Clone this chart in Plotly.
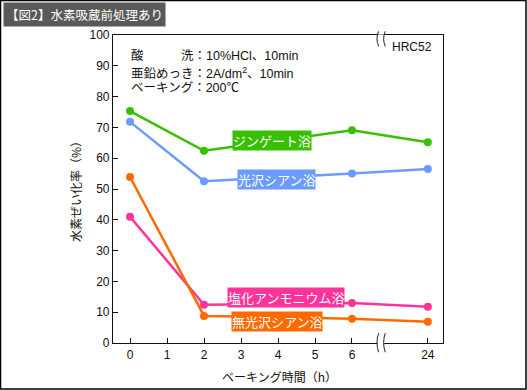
import plotly.graph_objects as go

hours = [0, 2, 6, 24]
tick_vals = [0, 1, 2, 3, 4, 5, 6, 24]
y_ticks = [0, 10, 20, 30, 40, 50, 60, 70, 80, 90, 100]

series_names = ["ジンゲート浴", "光沢シアン浴", "塩化アンモニウム浴", "無光沢シアン浴"]
zincate = [75.3, 62.4, 69.1, 65.2]
bright_cyanide = [71.8, 52.5, 55.0, 56.5]
ammonium_chloride = [41.0, 12.4, 13.0, 11.8]
matte_cyanide = [53.9, 8.8, 7.9, 6.9]
series_values = [zincate, bright_cyanide, ammonium_chloride, matte_cyanide]
colors = ["#38c000", "#6b9bff", "#ff3399", "#ff6a00"]
label_pos = [(3.84, 65.9), (3.95, 53.2), (4.22, 14.9), (3.97, 7.1)]

BREAK_POS = 8.05  # axis position used for 24 h (axis is broken after 6 h)


def xmap(h):
    return h if h <= 6 else BREAK_POS


FONT = "Liberation Sans, Arial, Noto Sans CJK JP, sans-serif"
JFONT = "Noto Sans CJK JP, Liberation Sans, sans-serif"

fig = go.Figure()
for name, vals, col in zip(series_names, series_values, colors):
    fig.add_trace(go.Scatter(
        x=[xmap(h) for h in hours], y=vals, mode="lines+markers", name=name,
        line=dict(color=col, width=2.5), marker=dict(color=col, size=8),
        showlegend=False, cliponaxis=False))

annotations = []
for name, (lx, ly), col in zip(series_names, label_pos, colors):
    annotations.append(dict(x=lx, y=ly, xref="x", yref="y", text=name, showarrow=False,
                            font=dict(family=JFONT, size=13, color="white"),
                            bgcolor=col, borderpad=0))

cond_lines = ["酸　　　洗：10%HCl、10min", "亜鉛めっき：2A/dm<sup>2</sup>、10min", "ベーキング：200℃"]
cond_y = [93.5, 87.7, 82.8]
for t, yy in zip(cond_lines, cond_y):
    annotations.append(dict(x=-0.02, y=yy, xref="x", yref="y", text=t, showarrow=False,
                            xanchor="left", yanchor="middle",
                            font=dict(family=FONT, size=12.5, color="#111")))
annotations.append(dict(x=8.22, y=96.0, xref="x", yref="y", text="HRC52", showarrow=False,
                        xanchor="right", yanchor="middle",
                        font=dict(family=FONT, size=12, color="#111")))
annotations.append(dict(x=-0.115, y=0.5, xref="paper", yref="paper", text="水素ぜい化率（%）",
                        textangle=-90, showarrow=False, xanchor="center", yanchor="middle",
                        font=dict(family=JFONT, size=12, color="#111")))
annotations.append(dict(x=0.506, y=-0.11, xref="paper", yref="paper", text="ベーキング時間（h）",
                        showarrow=False, xanchor="center", yanchor="middle",
                        font=dict(family=JFONT, size=12, color="#111")))
annotations.append(dict(x=-0.3333, y=1.068, xref="paper", yref="paper", text="【図2】水素吸蔵前処理あり",
                        showarrow=False, xanchor="left", yanchor="middle",
                        font=dict(family=JFONT, size=12.5, color="white"),
                        bgcolor="#595959", borderpad=2))

shapes = [
    dict(type="rect", xref="paper", yref="paper", x0=-0.3409, x1=1.2515, y0=-0.1494, y1=1.1120,
         line=dict(color="black", width=1.5), fillcolor="rgba(0,0,0,0)", layer="below"),
]
# axis break marks (top and bottom)
for yc in [(1.012, 0.963), (0.032, -0.03)]:
    y_top, y_bot = yc
    shapes.append(dict(type="rect", xref="x", yref="paper", x0=6.69, x1=6.87, y0=y_bot + 0.01, y1=y_top - 0.01,
                       line=dict(width=0), fillcolor="white", layer="above"))
    ym = (y_top + y_bot) / 2
    for xb in [6.69, 6.87]:
        shapes.append(dict(type="path", xref="x", yref="paper",
                           path=f"M {xb + 0.03},{y_top} Q {xb - 0.06},{ym} {xb + 0.03},{y_bot}",
                           line=dict(color="#222", width=1), layer="above"))

fig.update_layout(
    width=527, height=390,
    margin=dict(l=113, r=84, t=35, b=47),
    paper_bgcolor="white", plot_bgcolor="white",
    font=dict(family=FONT, size=12, color="#111"),
    annotations=annotations, shapes=shapes,
    xaxis=dict(range=[-0.46, 8.46], tickvals=[xmap(v) for v in tick_vals],
               ticktext=[str(v) for v in tick_vals], ticks="inside", ticklen=5,
               tickcolor="#111", showline=True, linecolor="#111", linewidth=1.2,
               mirror=True, showgrid=False, zeroline=False,
               tickfont=dict(family=FONT, size=12, color="#111")),
    yaxis=dict(range=[0, 100], tickvals=y_ticks, ticks="inside", ticklen=5,
               tickcolor="#111", showline=True, linecolor="#111", linewidth=1.2,
               mirror=True, showgrid=False, zeroline=False,
               tickfont=dict(family=FONT, size=12, color="#111")),
)

fig.write_html("out.html", config={"displayModeBar": False},
               post_script="document.body.style.margin='0';")
